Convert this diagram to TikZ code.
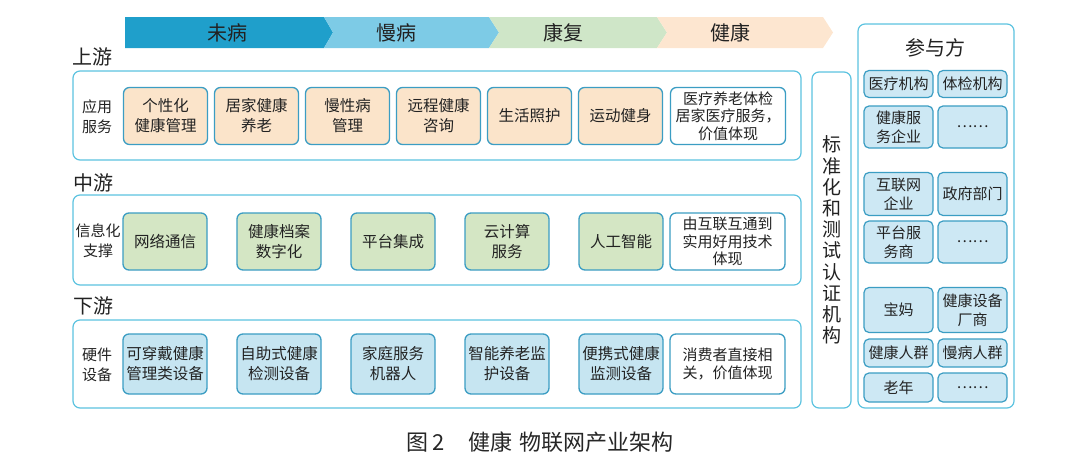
\documentclass[tikz,border=0pt]{standalone}
\usepackage{fontspec}
\setmainfont{Noto Sans CJK SC}
\usepackage{tikz}
\usetikzlibrary{positioning}
\definecolor{stagea}{HTML}{1F9FCB}
\definecolor{stageb}{HTML}{7DCBE6}
\definecolor{stagec}{HTML}{CFE6C8}
\definecolor{staged}{HTML}{FDE6D0}
\definecolor{upfill}{HTML}{FBE4CA}
\definecolor{midfill}{HTML}{D4E6C4}
\definecolor{lowfill}{HTML}{C6E5F1}
\definecolor{partyfill}{HTML}{CDE8F4}
\definecolor{itemline}{HTML}{3B9DC3}
\definecolor{layerline}{HTML}{5CC3E0}
\definecolor{txt}{HTML}{222222}

\begin{document}
\begin{tikzpicture}[x=1pt, y=-1pt, text=txt,
    layer/.style={draw=layerline, 
      line width=1.2pt, 
      rounded corners=7pt, 
      outer sep=0pt, 
      fill=white},
    item/.style={draw=itemline, 
      line width=1.3pt, 
      rounded corners=6pt, 
      minimum width=84pt, 
      minimum height=57pt, 
      inner sep=1pt, 
      outer sep=0pt, 
      align=center, 
      font=\fontsize{15.5}{20}\selectfont},
    note/.style={item, 
      fill=white, 
      minimum width=115pt, 
      font=\fontsize{15}{17.5}\selectfont},
    party/.style={draw=itemline, 
      line width=1.2pt, 
      rounded corners=5pt, 
      fill=partyfill, 
      minimum width=69pt, 
      inner sep=0pt, 
      outer sep=0pt, 
      align=center, 
      font=\fontsize{15}{19}\selectfont},
    title/.style={font=\fontsize{20}{20}\selectfont}]
  \useasboundingbox (0,0) rectangle (1068,472);

  % STAGES

  \fill[stagea] (125,17) -- (324,17) -- (333,32.5) -- (324,48) -- (125,48) -- cycle;
  \fill[stageb] (324,17) -- (489,17) -- (499,32.5) -- (489,48) -- (324,48) 
    -- (333,32.5) -- cycle;
  \fill[stagec] (489,17) -- (657,17) -- (667,32.5) -- (657,48) -- (489,48) 
    -- (499,32.5) -- cycle;
  \fill[staged] (657,17) -- (823,17) -- (833,32.5) -- (823,48) -- (657,48) 
    -- (667,32.5) -- cycle;

  \node[title] (stageone) at (227,32.5) {未病};
  \node[title] (stagetwo) at (396,32.5) {慢病};
  \node[title] (stagethree) at (563,32.5) {康复};
  \node[title] (stagefour) at (730,32.5) {健康};

  % LAYERS

  \node[title] (uptitle) at (92,57) {上游};
  \node[layer, minimum width=728pt, minimum height=89pt] 
    (upper) at (437,115.5) {};

  \node[title] (midtitle) at (93,183) {中游};
  \node[layer, minimum width=728pt, minimum height=90pt] 
    (middle) at (437,240) {};

  \node[title] (lowtitle) at (93,306) {下游};
  \node[layer, minimum width=728pt, minimum height=88pt] 
    (lower) at (437,364) {};

  % UPSTREAM

  \node[align=center, font=\fontsize{15}{20}\selectfont] 
    (uplabel) at (97,117) {应用\\服务};

  \node[item, fill=upfill] (upone) at (165.5,116) {个性化\\健康管理};
  \node[item, fill=upfill, right=7pt of upone] (uptwo) {居家健康\\养老};
  \node[item, fill=upfill, right=7pt of uptwo] (upthree) {慢性病\\管理};
  \node[item, fill=upfill, right=7pt of upthree] (upfour) {远程健康\\咨询};
  \node[item, fill=upfill, right=7pt of upfour] (upfive) {生活照护};
  \node[item, fill=upfill, right=7pt of upfive] (upsix) {运动健身};
  \node[note, right=8pt of upsix] (upnote) 
    {医疗养老体检\\居家医疗服务，\\价值体现};

  % MIDSTREAM

  \node[align=center, font=\fontsize{15}{20}\selectfont] 
    (midlabel) at (98,241) {信息化\\支撑};

  \node[item, fill=midfill] (midone) at (165,241.5) {网络通信};
  \node[item, fill=midfill, right=30pt of midone] (midtwo) {健康档案\\数字化};
  \node[item, fill=midfill, right=30pt of midtwo] (midthree) {平台集成};
  \node[item, fill=midfill, right=30pt of midthree] (midfour) {云计算\\服务};
  \node[item, fill=midfill, right=30pt of midfour] (midfive) {人工智能};
  \node[note, right=7pt of midfive] (midnote) 
    {由互联互通到\\实用好用技术\\体现};

  % DOWNSTREAM

  \node[align=center, font=\fontsize{15}{20}\selectfont] 
    (lowlabel) at (97,365) {硬件\\设备};

  \node[item, fill=lowfill, minimum height=60pt] (lowone) at (165,364) 
    {可穿戴健康\\管理类设备};
  \node[item, fill=lowfill, minimum height=60pt, right=30pt of lowone] 
    (lowtwo) {自助式健康\\检测设备};
  \node[item, fill=lowfill, minimum height=60pt, right=30pt of lowtwo] 
    (lowthree) {家庭服务\\机器人};
  \node[item, fill=lowfill, minimum height=60pt, right=30pt of lowthree] 
    (lowfour) {智能养老监\\护设备};
  \node[item, fill=lowfill, minimum height=60pt, right=30pt of lowfour] 
    (lowfive) {便携式健康\\监测设备};
  \node[note, minimum height=60pt, right=7pt of lowfive] (lownote) 
    {消费者直接相\\关，价值体现};

  % STANDARDS

  \node[layer, minimum width=39pt, minimum height=336pt] 
    (standards) at (831.5,240) {};
  \node[align=center, font=\fontsize{19}{21.2}\selectfont] 
    (standardstext) at (standards.center) 
    {标\\准\\化\\和\\测\\试\\认\\证\\机\\构};

  % PARTICIPANTS

  \node[layer, minimum width=156pt, minimum height=384pt] 
    (parties) at (936,216) {};
  \node[title] (partytitle) at (935,48) {参与方};

  \node[party, minimum height=27pt] (pone) at (898.5,84) {医疗机构};
  \node[party, minimum height=27pt, right=5pt of pone] (ptwo) {体检机构};
  \node[party, minimum height=42pt] (pthree) at (898.5,127) {健康服\\务企业};
  \node[party, minimum height=42pt, right=5pt of pthree] (pfour) {……};
  \node[party, minimum height=43pt] (pfive) at (898.5,194) {互联网\\企业};
  \node[party, minimum height=43pt, right=5pt of pfive] (psix) {政府部门};
  \node[party, minimum height=42pt] (pseven) at (898.5,242) {平台服\\务商};
  \node[party, minimum height=42pt, right=5pt of pseven] (peight) {……};
  \node[party, minimum height=45pt] (pnine) at (898.5,310) {宝妈};
  \node[party, minimum height=45pt, right=5pt of pnine] (pten) 
    {健康设备\\厂商};
  \node[party, minimum height=28pt] (peleven) at (898.5,353) {健康人群};
  \node[party, minimum height=28pt, right=5pt of peleven] (ptwelve) 
    {慢病人群};
  \node[party, minimum height=29pt] (pthirteen) at (898.5,387.5) {老年};
  \node[party, minimum height=29pt, right=5pt of pthirteen] (pfourteen) 
    {……};

  % CAPTION

  \node[font=\fontsize{22}{22}\selectfont, text=black!85] 
    (caption) at (540,442.5) 
    {图\,2\hspace{1.1em}健康\hspace{0.3em}物联网产业架构};

\end{tikzpicture}
\end{document}
